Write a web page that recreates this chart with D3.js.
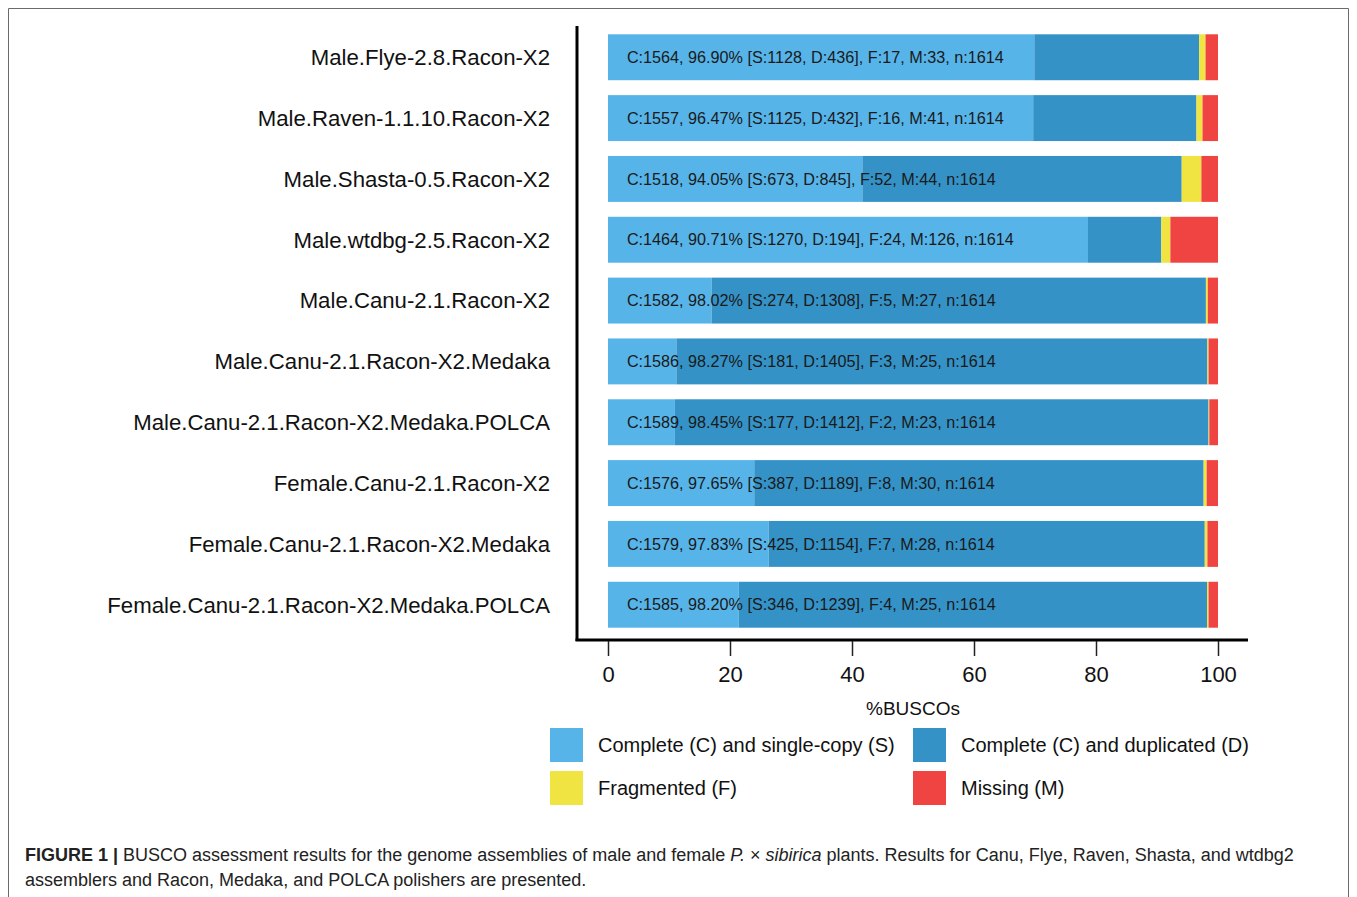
<!DOCTYPE html>
<html>
<head>
<meta charset="utf-8">
<script src="https://cdn.jsdelivr.net/npm/d3@7"></script>
<style>
  body { margin: 0; background: #fff; }
  svg { display: block; }
</style>
</head>
<body>
<div id="chart"></div>
<script>
// assemblies, top to bottom
var assemblies = [
    'Male.Flye-2.8.Racon-X2',
    'Male.Raven-1.1.10.Racon-X2',
    'Male.Shasta-0.5.Racon-X2',
    'Male.wtdbg-2.5.Racon-X2',
    'Male.Canu-2.1.Racon-X2',
    'Male.Canu-2.1.Racon-X2.Medaka',
    'Male.Canu-2.1.Racon-X2.Medaka.POLCA',
    'Female.Canu-2.1.Racon-X2',
    'Female.Canu-2.1.Racon-X2.Medaka',
    'Female.Canu-2.1.Racon-X2.Medaka.POLCA'
];
var completeCounts = [1564, 1557, 1518, 1464, 1582, 1586, 1589, 1576, 1579, 1585];
var completePct = ['96.90', '96.47', '94.05', '90.71', '98.02', '98.27', '98.45', '97.65', '97.83', '98.20'];
var singleCounts = [1128, 1125, 673, 1270, 274, 181, 177, 387, 425, 346];
var duplicatedCounts = [436, 432, 845, 194, 1308, 1405, 1412, 1189, 1154, 1239];
var fragmentedCounts = [17, 16, 52, 24, 5, 3, 2, 8, 7, 4];
var missingCounts = [33, 41, 44, 126, 27, 25, 23, 30, 28, 25];
var totalBuscos = 1614;

var categories = ['S', 'D', 'F', 'M'];
var categoryNames = ['Complete (C) and single-copy (S)', 'Complete (C) and duplicated (D)', 'Fragmented (F)', 'Missing (M)'];
var colours = ['#56B4E9', '#3492C7', '#F0E442', '#F04442'];
var xTicks = [0, 20, 40, 60, 80, 100];

var font = 'Liberation Sans, Arial, sans-serif';

var rows = assemblies.map(function (name, i) {
    return {
        name: name,
        S: singleCounts[i] / totalBuscos * 100,
        D: duplicatedCounts[i] / totalBuscos * 100,
        F: fragmentedCounts[i] / totalBuscos * 100,
        M: missingCounts[i] / totalBuscos * 100,
        label: 'C:' + completeCounts[i] + ', ' + completePct[i] + '% [S:' + singleCounts[i] +
            ', D:' + duplicatedCounts[i] + '], F:' + fragmentedCounts[i] + ', M:' + missingCounts[i] +
            ', n:' + totalBuscos
    };
});

var svg = d3.select('#chart').append('svg')
    .attr('width', 1357)
    .attr('height', 897);

// figure frame
svg.append('path')
    .attr('d', 'M8.5,897 V8.5 H1348.5 V897')
    .attr('fill', 'none')
    .attr('stroke', '#6b6b6b')
    .attr('stroke-width', 1);

var xScale = d3.scaleLinear().domain([0, 100]).range([608, 1218]);
var yScale = d3.scaleBand()
    .domain(assemblies)
    .range([27, 635])
    .paddingInner(0.245)
    .paddingOuter(0.12);

var stacked = d3.stack().keys(categories)(rows);

svg.append('g')
    .selectAll('g')
    .data(stacked)
    .join('g')
    .attr('fill', function (d, i) { return colours[i]; })
    .selectAll('rect')
    .data(function (d) { return d; })
    .join('rect')
    .attr('x', function (d) { return xScale(d[0]); })
    .attr('y', function (d) { return yScale(d.data.name); })
    .attr('width', function (d) { return xScale(d[1]) - xScale(d[0]); })
    .attr('height', yScale.bandwidth());

// text inside bars
svg.append('g')
    .selectAll('text')
    .data(rows)
    .join('text')
    .attr('x', xScale(3.1))
    .attr('y', function (d) { return yScale(d.name) + yScale.bandwidth() / 2; })
    .attr('dy', '0.35em')
    .style('font-family', font)
    .style('font-size', '16.2px')
    .attr('fill', '#1a1a1a')
    .text(function (d) { return d.label; });

// y labels
svg.append('g')
    .selectAll('text')
    .data(assemblies)
    .join('text')
    .attr('x', 550)
    .attr('y', function (d) { return yScale(d) + yScale.bandwidth() / 2; })
    .attr('dy', '0.35em')
    .attr('text-anchor', 'end')
    .style('font-family', font)
    .style('font-size', '22.2px')
    .attr('fill', '#111')
    .text(function (d) { return d; });

// axes lines
svg.append('line')
    .attr('x1', 577).attr('x2', 577)
    .attr('y1', 26).attr('y2', 641)
    .attr('stroke', '#000').attr('stroke-width', 3);
svg.append('line')
    .attr('x1', 575.5).attr('x2', 1248)
    .attr('y1', 640).attr('y2', 640)
    .attr('stroke', '#000').attr('stroke-width', 3);

var xAxis = svg.append('g')
    .attr('transform', 'translate(0,641)')
    .call(d3.axisBottom(xScale).tickValues(xTicks).tickSize(15).tickPadding(10).tickFormat(d3.format('d')));
xAxis.select('.domain').remove();
xAxis.selectAll('.tick line').attr('stroke', '#222').attr('stroke-width', 1.5);
xAxis.selectAll('.tick text')
    .style('font-family', font)
    .style('font-size', '22px')
    .attr('fill', '#111');

svg.append('text')
    .attr('x', xScale(50))
    .attr('y', 715)
    .attr('text-anchor', 'middle')
    .style('font-family', font)
    .style('font-size', '19px')
    .attr('fill', '#111')
    .text('%BUSCOs');

// legend
var legendX = [550, 913];
var legendY = [728, 771];
var legend = svg.append('g')
    .selectAll('g')
    .data(categoryNames)
    .join('g')
    .attr('transform', function (d, i) {
        return 'translate(' + legendX[i % 2] + ',' + legendY[Math.floor(i / 2)] + ')';
    });
legend.append('rect')
    .attr('width', 33)
    .attr('height', 34)
    .attr('fill', function (d, i) { return colours[i]; });
legend.append('text')
    .attr('x', 48)
    .attr('y', 17)
    .attr('dy', '0.35em')
    .style('font-family', font)
    .style('font-size', '20px')
    .attr('fill', '#111')
    .text(function (d) { return d; });

// caption
var caption = svg.append('text')
    .attr('x', 25)
    .attr('y', 861)
    .style('font-family', font)
    .style('font-size', '18px')
    .attr('fill', '#222');
caption.append('tspan').style('font-weight', 'bold').text('FIGURE 1 | ');
caption.append('tspan').text('BUSCO assessment results for the genome assemblies of male and female ');
caption.append('tspan').style('font-style', 'italic').text('P.');
caption.append('tspan').text(' \u00d7 ');
caption.append('tspan').style('font-style', 'italic').text('sibirica');
caption.append('tspan').text(' plants. Results for Canu, Flye, Raven, Shasta, and wtdbg2');
svg.append('text')
    .attr('x', 25)
    .attr('y', 886)
    .style('font-family', font)
    .style('font-size', '18px')
    .attr('fill', '#222')
    .text('assemblers and Racon, Medaka, and POLCA polishers are presented.');
</script>
</body>
</html>
